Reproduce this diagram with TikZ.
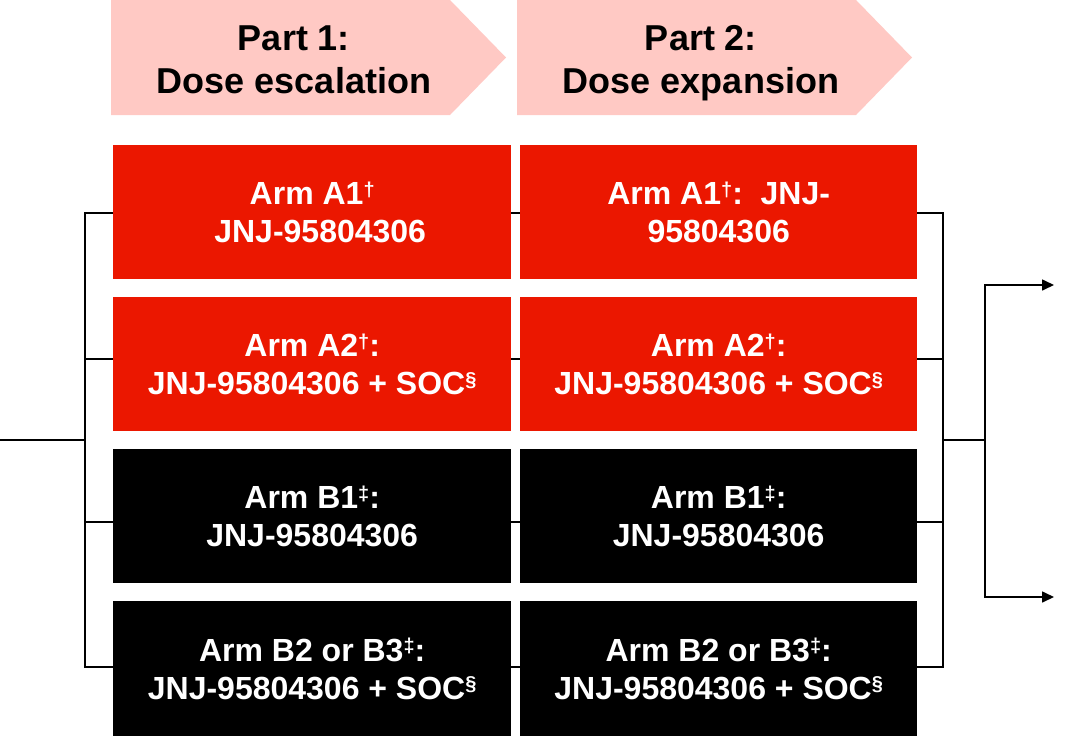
\documentclass[tikz,border=0pt]{standalone}
\usepackage{fontspec}
\setmainfont{Liberation Sans}
\usetikzlibrary{arrows.meta}
\definecolor{jred}{HTML}{EB1700}
\definecolor{jpink}{HTML}{FFC9C4}
\newcommand{\supmark}[1]{\raisebox{8.5pt}{\fontsize{20}{20}\selectfont #1}}
\begin{document}
\begin{tikzpicture}[x=1pt,y=-1pt,
  armbox/.style={minimum height=134pt, inner sep=0pt, text=white, align=center,
    font=\fontsize{32}{38}\selectfont\bfseries, anchor=north west},
  redbox/.style={armbox, fill=jred},
  blkbox/.style={armbox, fill=black},
  hdr/.style={font=\fontsize{36}{43}\selectfont\bfseries, anchor=base},
  chev/.style={fill=jpink},
  conn/.style={line width=1.6pt, black},
  arr/.style={conn, -{Triangle[length=12pt,width=11pt]}},
]
\useasboundingbox (0,0) rectangle (1067,736);

% header chevrons
\fill[chev] (111,0) -- (450,0) -- (506,57.5) -- (450,115) -- (111,115) -- cycle;
\fill[chev] (517,0) -- (856,0) -- (912,57.5) -- (856,115) -- (517,115) -- cycle;
\node[hdr] (h1a) at (294,50) {Part 1:};
\node[hdr] (h1b) at (294,93) {Dose escalation};
\node[hdr] (h2a) at (701,50) {Part 2:};
\node[hdr] (h2b) at (701,93) {Dose expansion};

% arm boxes
\node[redbox, minimum width=398pt] (b11) at (113,145) {Arm A1\supmark{†}\\\hspace*{0.5em}JNJ-95804306};
\node[redbox, minimum width=397pt] (b21) at (520,145) {Arm A1\supmark{†}:\ \ JNJ-\\95804306};
\node[redbox, minimum width=398pt] (b12) at (113,297) {Arm A2\supmark{†}:\\JNJ-95804306 + SOC\supmark{§}};
\node[redbox, minimum width=397pt] (b22) at (520,297) {Arm A2\supmark{†}:\\JNJ-95804306 + SOC\supmark{§}};
\node[blkbox, minimum width=398pt] (b13) at (113,449) {Arm B1\supmark{‡}:\\JNJ-95804306};
\node[blkbox, minimum width=397pt] (b23) at (520,449) {Arm B1\supmark{‡}:\\JNJ-95804306};
\node[blkbox, minimum width=398pt, minimum height=135pt] (b14) at (113,601) {Arm B2 or B3\supmark{‡}:\\JNJ-95804306 + SOC\supmark{§}};
\node[blkbox, minimum width=397pt, minimum height=135pt] (b24) at (520,601) {Arm B2 or B3\supmark{‡}:\\JNJ-95804306 + SOC\supmark{§}};

% connector coordinates
\coordinate (start) at (0,440);
\coordinate (l1) at (85,213);
\coordinate (l2) at (85,359);
\coordinate (l3) at (85,522);
\coordinate (l4) at (85,667);
\coordinate (r1) at (943,213);
\coordinate (r2) at (943,359);
\coordinate (r3) at (943,522);
\coordinate (r4) at (943,667);
\coordinate (rm) at (943,440);
\coordinate (fork) at (985,440);
\coordinate (out1) at (1054,285);
\coordinate (out2) at (1054,597);

% left bracket
\draw[conn] (start) -- (start -| l1);
\draw[conn] (l1 -| b11.west) -- (l1) -- (l4) -- (l4 -| b14.west);
\draw[conn] (l2) -- (l2 -| b12.west);
\draw[conn] (l3) -- (l3 -| b13.west);

% links between columns
\draw[conn] (l1 -| b11.east) -- (l1 -| b21.west);
\draw[conn] (l2 -| b12.east) -- (l2 -| b22.west);
\draw[conn] (l3 -| b13.east) -- (l3 -| b23.west);
\draw[conn] (l4 -| b14.east) -- (l4 -| b24.west);

% right bracket
\draw[conn] (r1 -| b21.east) -- (r1) -- (r4) -- (r4 -| b24.east);
\draw[conn] (r2 -| b22.east) -- (r2);
\draw[conn] (r3 -| b23.east) -- (r3);
\draw[conn] (rm) -- (fork);
\draw[arr] (fork) -- (fork |- out1) -- (out1);
\draw[arr] (fork) -- (fork |- out2) -- (out2);
\end{tikzpicture}
\end{document}
